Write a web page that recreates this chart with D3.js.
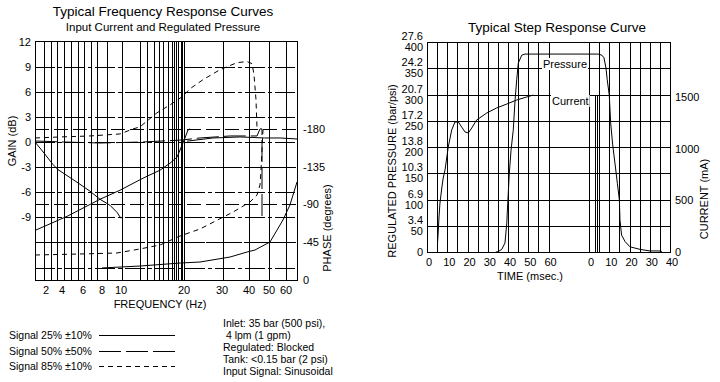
<!DOCTYPE html>
<html><head><meta charset="utf-8">
<script src="https://cdn.jsdelivr.net/npm/d3@7"></script>
<style>
body{margin:0;background:#fff}
svg{display:block}
text{font-family:"Liberation Sans",Arial,Helvetica,sans-serif;fill:#000}
</style></head>
<body><svg id="c" width="720" height="382"></svg>
<script>
// ---------- Frequency response data ----------
const freqTickLabels = [2,4,6,8,10,20,30,40,50,60];
const freqGrid = [1.82,2.6,3.4,4.2,4.86,5.52,6.1,6.84,7.47,8.53,10.1,13,14.1,15.2,16,16.7,17.5,18.1,18.45,18.8,19.1,19.45,19.75,20,30.3,40,50,60];
const gainTicks = [12,9,6,3,0,-3,-6,-9];
const gainGrid = [9,6,3,0,-3,-6,-9,-12,-15];
const phaseTicks = [-180,-135,-90,-45,0];
const phaseGrid = [-180,-135,-90,-45];

const sig25GainA = [[1,0],[1.82,-1.32],[2.88,-2.7],[3.5,-3.3],[5.43,-4.8],[6.74,-5.88],[7.79,-6.84],[8.84,-7.56],[9.58,-8.4],[10,-9.12]];
const sig25GainB = [[1,-10.56],[4.48,-8.88],[7.79,-6.84],[9.89,-5.76],[13.5,-4.32],[16.2,-3.36],[17.8,-2.52],[18.9,-1.8],[19.7,-0.36],[20.26,0.48],[21.05,1.44],[21.6,1.56]];
const sig25GainC = [[20.8,0.1],[27.6,0.48],[36.7,0.6],[47.8,0.48],[56.5,0.48],[67,0.36]];
const sig25Phase = [[8,-13.8],[13,-16.1],[19.4,-19.7],[24.2,-20.9],[33,-26.9],[39.3,-32.9],[43,-35.3],[50.6,-44.9],[58.2,-71.2],[62.5,-89.1],[67,-116.6]];
const sig50Gain = [[1,0.12],[4.1,0],[7.79,-0.12],[13.5,0],[19.7,0.24],[24.2,0.48],[33,0.72],[44,0.72],[45.5,1.56],[46.5,1.56],[46.5,-9]];
const sig85Gain = [[1,0.48],[3.75,0.6],[6.74,0.72],[9.89,0.96],[11.9,1.56],[13,1.8],[15.7,3.48],[17.8,4.44],[19.7,5.4],[21.6,6.36],[25,7.44],[29.5,8.64],[35.6,9.48],[39.3,9.6],[41.5,9.36],[42.5,8.04],[43.5,5.04],[44,1.68]];
const sig85Phase = [[1,-29.3],[5.71,-30.5],[9.58,-31.7],[13,-36.5],[16.2,-41.3],[19.37,-52],[24.2,-60.4],[34.1,-80.7],[40.5,-92.7],[44,-101.1],[45.5,-113],[46,-131],[46.5,-154.9],[47,-178.8]];

const legendLabels = ["Signal 25% \u00b110%","Signal 50% \u00b150%","Signal 85% \u00b110%"];
const notes = ["Inlet: 35 bar (500 psi),"," 4 lpm (1 gpm)","Regulated: Blocked","Tank: <0.15 bar (2 psi)","Input Signal: Sinusoidal"];

// ---------- Step response data ----------
const psiTicks = [400,350,300,250,200,150,100,50,0];
const barTicks = ["27.6","24.2","20.7","17.2","13.8","10.3","6.9","3.4",""];
const currentTicks = [1500,1000,500,0];
const timeTicks = [0,10,20,30,40,50,60,80,90,100,110,120];
const timeTickLabels = ["0","10","20","30","40","50","60","0","10","20","30","40"];
const pressureCurve = [[34,0],[35.1,0.6],[36.9,5],[38.5,17],[39.4,55],[39.7,80],[40.1,109],[40.6,147],[41.5,194],[42.6,232],[43.5,290],[44.3,328],[45.1,360],[46.8,375],[48.4,377],[84.4,377],[86.3,375],[87.4,370],[88.4,350],[89,328],[90,299],[90.7,246],[91.7,204],[92.8,170],[94,131],[95,99],[95.3,61],[96.1,32],[97.8,20],[100.2,10],[105.2,5],[110.1,2],[115.1,2],[116,1]];
const currentRise = [[5.2,87],[5.6,213],[5.9,329],[6.4,474],[7.3,619],[8,716],[8.9,794],[10.5,1016],[12.2,1181],[13.8,1258],[15.5,1258],[17.1,1210],[18.8,1161],[20.4,1152],[22.1,1200],[24.5,1277],[29.5,1345],[34.4,1394],[39.4,1432],[44.3,1471],[49.2,1500],[52.5,1519]];
const currentDrop = [[83.2,1519],[83.2,0],[84.3,0],[84.3,1519]];

const svg = d3.select("#c");
const crisp = v => Math.round(v) + 0.5;

// ================= LEFT CHART =================
const L = {x0:35, x1:297, y0:41, y1:280};
const fx = d3.scaleLinear().domain([1,2,4,6,8,10,20,30,40,50,60,67]).range([35,46,62,83,102,121,184,222,249,269,286,297]);
const gy = d3.scaleLinear().domain([-16.48,12]).range([280,41.5]);
const py = d3.scaleLinear().domain([0,-180]).range([279.5,129]);

const gl = svg.append("g");
gl.selectAll(".vg").data(freqGrid).join("line")
  .attr("x1",d=>crisp(fx(d))).attr("x2",d=>crisp(fx(d)))
  .attr("y1",L.y0).attr("y2",L.y1).attr("stroke","#000").attr("stroke-width",1).attr("shape-rendering","crispEdges");
gl.selectAll(".gg").data(gainGrid).join("line")
  .attr("x1",L.x0).attr("x2",L.x1)
  .attr("y1",d=>crisp(gy(d))).attr("y2",d=>crisp(gy(d)))
  .attr("stroke","#000").attr("stroke-dasharray","20,3,4,3").attr("shape-rendering","crispEdges");
gl.selectAll(".pg").data(phaseGrid).join("line")
  .attr("x1",L.x0).attr("x2",L.x1)
  .attr("y1",d=>crisp(py(d))).attr("y2",d=>crisp(py(d)))
  .attr("stroke","#000").attr("stroke-dasharray","14,5").attr("shape-rendering","crispEdges");
gl.append("rect").attr("x",L.x0+0.5).attr("y",L.y0+0.5).attr("width",L.x1-L.x0).attr("height",L.y1-L.y0)
  .attr("fill","none").attr("stroke","#000").attr("shape-rendering","crispEdges");

const lineG = d3.line().x(d=>fx(d[0])).y(d=>gy(d[1]));
const lineP = d3.line().x(d=>fx(d[0])).y(d=>py(d[1]));
const curves = [
  [sig25GainA,lineG,null],[sig25GainB,lineG,null],[sig25GainC,lineG,null],[sig25Phase,lineP,null],
  [sig50Gain,lineG,"22,5"],[sig85Gain,lineG,"5,4"],[sig85Phase,lineP,"5,4"]
];
curves.forEach(([data,gen,dash])=>{
  gl.append("path").attr("d",gen(data)).attr("fill","none").attr("stroke","#000").attr("stroke-width",1)
    .attr("stroke-dasharray",dash);
});

// axis labels
gl.selectAll(".gt").data(gainTicks).join("text")
  .attr("x",31).attr("y",d=>gy(d)+4).attr("text-anchor","end").attr("font-size",11).text(d=>d);
gl.selectAll(".pt").data(phaseTicks).join("text")
  .attr("x",303).attr("y",d=>py(d)+4).attr("font-size",11).text(d=>d);
gl.selectAll(".ft").data(freqTickLabels).join("text")
  .attr("x",d=>fx(d)).attr("y",294).attr("text-anchor","middle").attr("font-size",11).text(d=>d);
gl.append("text").attr("x",160).attr("y",308).attr("text-anchor","middle").attr("font-size",11).text("FREQUENCY (Hz)");
gl.append("text").attr("transform","translate(16,141) rotate(-90)").attr("text-anchor","middle").attr("font-size",11).text("GAIN (dB)");
gl.append("text").attr("transform","translate(331,228) rotate(-90)").attr("text-anchor","middle").attr("font-size",11).text("PHASE (degrees)");
gl.append("text").attr("x",163).attr("y",16).attr("text-anchor","middle").attr("font-size",13.5).text("Typical Frequency Response Curves");
gl.append("text").attr("x",163).attr("y",31).attr("text-anchor","middle").attr("font-size",11.5).text("Input Current and Regulated Pressure");

// legend
const dashes = [null,"22,5","5,4"];
legendLabels.forEach((t,i)=>{
  const y = 335 + i*15.5;
  gl.append("text").attr("x",9).attr("y",y+4).attr("font-size",10.5).text(t);
  gl.append("line").attr("x1",99).attr("x2",175).attr("y1",crisp(y)).attr("y2",crisp(y))
    .attr("stroke","#000").attr("stroke-dasharray",dashes[i]).attr("shape-rendering","crispEdges");
});
notes.forEach((t,i)=>{
  gl.append("text").attr("x",223).attr("y",327+i*12).attr("font-size",10.5).style("white-space","pre").text(t);
});

// ================= RIGHT CHART =================
const R = {x0:427, x1:670, y0:42, y1:252};
const tx = d3.scaleLinear().domain([0,120]).range([427,670]);
const psiY = d3.scaleLinear().domain([0,400]).range([252,42]);
const curY = d3.scaleLinear().domain([0,1500]).range([252,97]);
const tGrid = d3.range(0,61,5).concat(d3.range(80,121,5));

const gr = svg.append("g");
gr.selectAll(".tv").data(tGrid).join("line")
  .attr("x1",d=>crisp(tx(d))).attr("x2",d=>crisp(tx(d))).attr("y1",R.y0).attr("y2",R.y1)
  .attr("stroke","#000").attr("shape-rendering","crispEdges");
gr.selectAll(".th").data(psiTicks).join("line")
  .attr("x1",R.x0).attr("x2",R.x1).attr("y1",d=>crisp(psiY(d))).attr("y2",d=>crisp(psiY(d)))
  .attr("stroke","#000").attr("shape-rendering","crispEdges");
gr.append("rect").attr("x",R.x0+0.5).attr("y",R.y0+0.5).attr("width",R.x1-R.x0).attr("height",R.y1-R.y0)
  .attr("fill","none").attr("stroke","#000").attr("shape-rendering","crispEdges");

const lineT = d3.line().x(d=>tx(d[0])).y(d=>psiY(d[1]));
const lineC = d3.line().x(d=>tx(d[0])).y(d=>curY(d[1]));
gr.append("path").attr("d",lineT(pressureCurve)).attr("fill","none").attr("stroke","#000").attr("stroke-width",1);
gr.append("path").attr("d",lineC(currentRise)).attr("fill","none").attr("stroke","#000").attr("stroke-width",1);
gr.append("path").attr("d",lineC(currentDrop)).attr("fill","none").attr("stroke","#000").attr("stroke-width",1).attr("shape-rendering","crispEdges");

// in-plot labels
[["Pressure",543,68],["Current",552,105]].forEach(([t,x,y])=>{
  const tt = gr.append("text").attr("x",x).attr("y",y).attr("font-size",11).text(t);
  const bb = tt.node().getBBox();
  gr.insert("rect","text").attr("x",bb.x-1).attr("y",bb.y).attr("width",bb.width+2).attr("height",bb.height).attr("fill","#fff");
});

gr.selectAll(".pl").data(psiTicks).join("text")
  .attr("x",423).attr("y",d=>psiY(d)+ (d===0?4:9)).attr("text-anchor","end").attr("font-size",11).text(d=>d);
gr.selectAll(".bl").data(psiTicks.map((d,i)=>[d,barTicks[i]])).join("text")
  .attr("x",423).attr("y",d=>psiY(d[0])-2).attr("text-anchor","end").attr("font-size",11).text(d=>d[1]);
gr.selectAll(".cl").data(currentTicks).join("text")
  .attr("x",675).attr("y",d=>curY(d)+4).attr("font-size",11).text(d=>d);
gr.selectAll(".tl").data(timeTicks).join("text")
  .attr("x",d=>tx(d)+2).attr("y",266).attr("text-anchor","middle").attr("font-size",11).text((d,i)=>timeTickLabels[i]);
gr.append("text").attr("x",530).attr("y",280).attr("text-anchor","middle").attr("font-size",11).text("TIME (msec.)");
gr.append("text").attr("transform","translate(396,171) rotate(-90)").attr("text-anchor","middle").attr("font-size",11).text("REGULATED PRESSURE (bar/psi)");
gr.append("text").attr("transform","translate(708,199) rotate(-90)").attr("text-anchor","middle").attr("font-size",11).text("CURRENT (mA)");
gr.append("text").attr("x",557).attr("y",32).attr("text-anchor","middle").attr("font-size",13.5).text("Typical Step Response Curve");
</script></body></html>
